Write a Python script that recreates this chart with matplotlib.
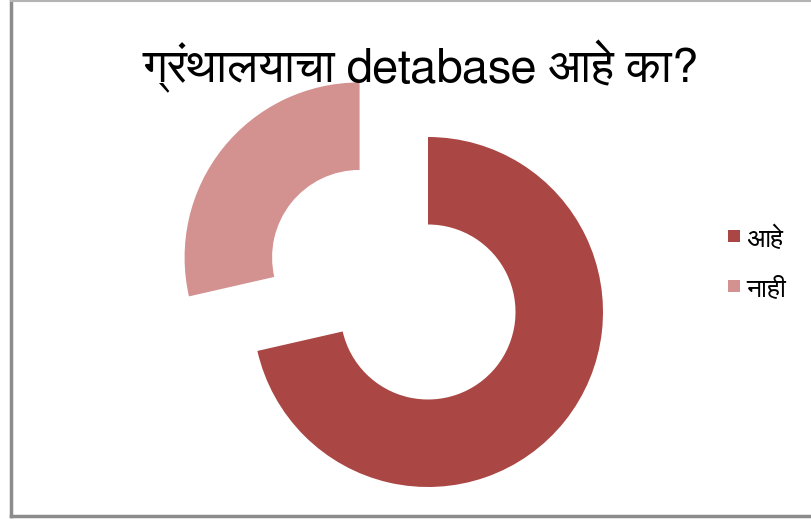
import matplotlib
matplotlib.use("Agg")
import matplotlib.pyplot as plt
from matplotlib import font_manager as fm
from matplotlib.patches import Rectangle
from matplotlib.lines import Line2D

title = "ग्रंथालयाचा detabase आहे का?"
categories = ["आहे", "नाही"]
values = [25, 10]
colors = ["#AA4744", "#D39190"]

# find a font with Devanagari if installed
deva = []
for f in fm.fontManager.ttflist:
    n = f.name
    if any(k in n for k in ["Devanagari", "Lohit", "FreeSans", "Mukta", "Mangal", "Gargi", "Kalimati", "Samanata"]):
        if n not in deva:
            deva.append(n)
families = deva + ["Open Sans", "Noto Sans", "DejaVu Sans"]
plt.rcParams['font.family'] = families

W, H = 811, 521
fig = plt.figure(figsize=(W / 100, H / 100), dpi=100)
fig.patch.set_facecolor("white")

R = 175.0
cx, cy = 428.0, 521 - 312.0
ax = fig.add_axes([0, 0, 1, 1])
ax.set_aspect("equal")
ax.axis("off")

ax.pie(values, colors=colors, startangle=90, counterclock=False,
       explode=[0, 0.5], radius=1.0, center=(0, 0),
       wedgeprops=dict(width=0.5, linewidth=0))
ax.set_xlim(-cx / R, (W - cx) / R)
ax.set_ylim(-cy / R, (H - cy) / R)

# border
fig.add_artist(Line2D([11 / W, 11 / W], [5 / H, 1], transform=fig.transFigure, color="#8c8c8c", lw=2.5))
fig.add_artist(Line2D([11 / W, 1], [5 / H, 5 / H], transform=fig.transFigure, color="#8c8c8c", lw=2.5))
fig.add_artist(Line2D([11 / W, 1], [1 - 0.5 / H, 1 - 0.5 / H], transform=fig.transFigure, color="#b4b4b4", lw=1.5))

fig.text(420 / W, 1 - 66 / H, title, ha="center", va="center", fontsize=34, color="black")

# legend
for i, (lab, col) in enumerate(zip(categories, colors)):
    y = 236 + i * 50
    fig.add_artist(Rectangle((728 / W, 1 - (y + 6) / H), 12 / W, 12 / H,
                             transform=fig.transFigure, facecolor=col, edgecolor="none"))
    fig.text(746 / W, 1 - (y + 4) / H, lab, ha="left", va="center", fontsize=19, color="black")

fig.savefig("out.png", dpi=100, facecolor="white")
